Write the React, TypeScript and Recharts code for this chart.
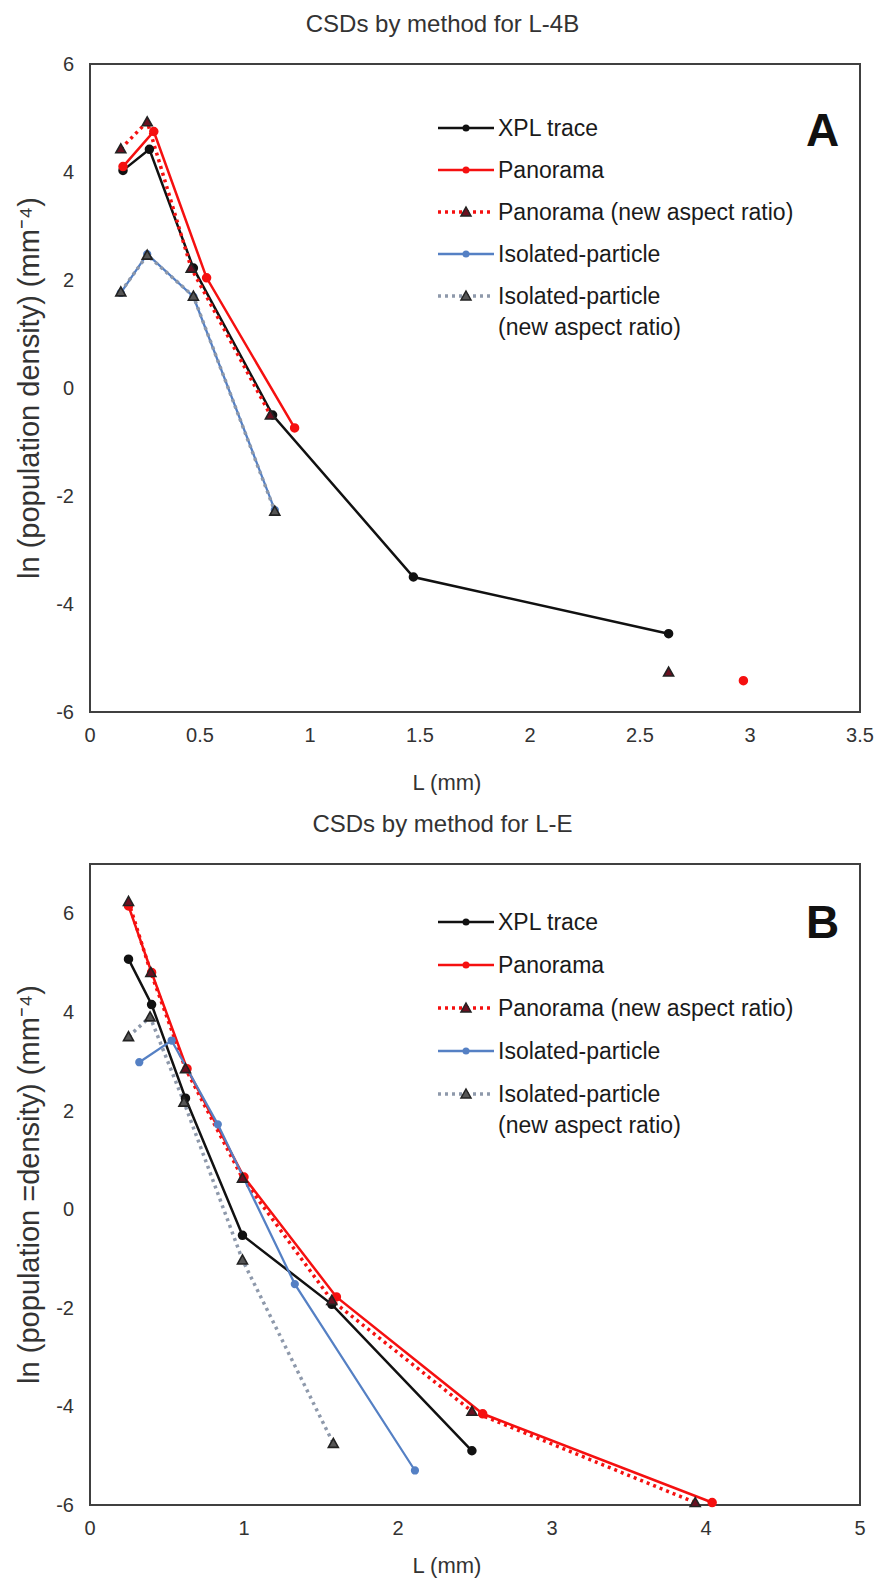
import { LineChart, Line, XAxis, YAxis, ReferenceArea } from 'recharts';

// ---- Chart A (L-4B) ----
const xplA_L = [0.15, 0.27, 0.47, 0.83, 1.47, 2.63];
const xplA_v = [4.03, 4.42, 2.22, -0.5, -3.5, -4.55];
const panA_L = [0.15, 0.29, 0.53, 0.93, 1.6, 2.97];
const panA_v = [4.1, 4.75, 2.04, -0.74, null, -5.42];
const panNarA_L = [0.14, 0.26, 0.46, 0.82, 1.47, 2.63];
const panNarA_v = [4.43, 4.93, 2.22, -0.5, null, -5.26];
const isoA_L = [0.14, 0.26, 0.47, 0.84];
const isoA_v = [1.76, 2.48, 1.69, -2.26];
const isoNarA_L = [0.14, 0.26, 0.47, 0.84];
const isoNarA_v = [1.78, 2.46, 1.7, -2.28];
const xTicksA = [0, 0.5, 1, 1.5, 2, 2.5, 3, 3.5];
const yTicksA = [-6, -4, -2, 0, 2, 4, 6];

// ---- Chart B (L-E) ----
const xplB_L = [0.25, 0.4, 0.62, 0.99, 1.57, 2.48];
const xplB_v = [5.07, 4.15, 2.25, -0.53, -1.93, -4.9];
const panB_L = [0.25, 0.4, 0.63, 1.0, 1.6, 2.55, 4.04];
const panB_v = [6.15, 4.8, 2.85, 0.65, -1.78, -4.15, -5.95];
const panNarB_L = [0.25, 0.395, 0.62, 0.99, 1.57, 2.48, 3.93];
const panNarB_v = [6.24, 4.8, 2.85, 0.63, -1.85, -4.1, -5.95];
const isoB_L = [0.32, 0.53, 0.83, 1.33, 2.11];
const isoB_v = [2.98, 3.42, 1.72, -1.52, -5.3];
const isoNarB_L = [0.25, 0.39, 0.61, 0.99, 1.58];
const isoNarB_v = [3.5, 3.9, 2.17, -1.03, -4.75];
const xTicksB = [0, 1, 2, 3, 4, 5];
const yTicksB = [-6, -4, -2, 0, 2, 4, 6];

const seriesNames = [
  'XPL trace',
  'Panorama',
  'Panorama (new aspect ratio)',
  'Isolated-particle',
  'Isolated-particle\n(new aspect ratio)',
];

const BLACK = '#111';
const RED = '#f51010';
const BLUE = '#5580c4';
const GREY = '#8e99ab';
const FONT = '"Liberation Sans", Arial, sans-serif';

const zip = (L: number[], v: (number | null)[]) => L.map((x, i) => ({ L: x, v: v[i] }));

const triangle = (fill: string) => (p: any) => {
  if (p.cy == null || p.value == null) return <g key={`t${p.index}`} />;
  const s = 5;
  return (
    <path
      key={`t${p.index}`}
      d={`M${p.cx},${p.cy - s} L${p.cx + s},${p.cy + s * 0.8} L${p.cx - s},${p.cy + s * 0.8} Z`}
      fill={fill}
      stroke="#222"
      strokeWidth={1.6}
    />
  );
};

function Sample({ color, dashed, tri, triFill }: { color: string; dashed?: boolean; tri?: boolean; triFill?: string }) {
  return (
    <svg width={58} height={16} style={{ display: 'block' }}>
      <line x1={1} y1={8} x2={57} y2={8} stroke={color} strokeWidth={dashed ? 3.5 : 2.5} strokeDasharray={dashed ? '3 4' : undefined} />
      {tri ? (
        <path d="M29,3 L34,12 L24,12 Z" fill={triFill} stroke="#222" strokeWidth={1.5} />
      ) : (
        <circle cx={29} cy={8} r={3.5} fill={color} />
      )}
    </svg>
  );
}

function LegendBox({ rows }: { rows: number[] }) {
  const samples = [
    <Sample color={BLACK} />,
    <Sample color={RED} />,
    <Sample color={RED} dashed tri triFill="#6a1020" />,
    <Sample color={BLUE} />,
    <Sample color={GREY} dashed tri triFill="#555" />,
  ];
  return (
    <div style={{ position: 'absolute', top: 0, left: 437, fontFamily: FONT, fontSize: 23, color: '#1a1a1a' }}>
      {seriesNames.map((name, i) => (
        <div key={name} style={{ position: 'absolute', top: rows[i] - 15, left: 0, display: 'flex', alignItems: 'flex-start', whiteSpace: 'pre', lineHeight: '31px' }}>
          <div style={{ marginTop: 7 }}>{samples[i]}</div>
          <span style={{ marginLeft: 3 }}>{name}</span>
        </div>
      ))}
    </div>
  );
}

function Panel({
  top, height, plotTop, plotBottom, title, titleY, letter, letterY, yLabel, xTicks, yTicks, xMax, yMin, yMax, data, legendRows,
}: any) {
  const xAxisH = height - plotBottom - 8;
  return (
    <div style={{ position: 'absolute', left: 0, top, width: 877, height }}>
      <div style={{ position: 'absolute', top: titleY - 14, left: 0, width: 877, textAlign: 'center', paddingLeft: 8, boxSizing: 'border-box', fontFamily: FONT, fontSize: 24, lineHeight: '28px', color: '#333' }}>
        {title}
      </div>
      <LineChart width={877} height={height} margin={{ top: plotTop, right: 17, bottom: 8, left: 0 }}>
        <XAxis
          dataKey="L"
          type="number"
          domain={[0, xMax]}
          ticks={xTicks}
          axisLine={false}
          tickLine={false}
          tickMargin={10}
          height={xAxisH}
          tick={{ fill: '#333', fontSize: 20, fontFamily: FONT }}
          label={{ value: 'L (mm)', position: 'insideBottom', offset: 2, dx: -28, fill: '#333', fontSize: 22, fontFamily: FONT }}
        />
        <YAxis
          type="number"
          domain={[yMin, yMax]}
          ticks={yTicks}
          axisLine={false}
          tickLine={false}
          tickMargin={10}
          width={90}
          tick={{ fill: '#333', fontSize: 20, fontFamily: FONT }}
          label={{ value: yLabel, angle: -90, position: 'insideLeft', offset: 29, fill: '#333', fontSize: 29, fontFamily: FONT, style: { textAnchor: 'middle' } }}
        />
        <ReferenceArea x1={0} x2={xMax} y1={yMin} y2={yMax} fill="none" stroke="#404040" strokeWidth={2} fillOpacity={0} strokeOpacity={1} />
        <Line data={data[0]} dataKey="v" stroke={BLACK} strokeWidth={2.5} dot={{ r: 3.5, fill: BLACK, stroke: BLACK }} isAnimationActive={false} connectNulls={false} />
        <Line data={data[1]} dataKey="v" stroke={RED} strokeWidth={2.5} dot={{ r: 3.5, fill: RED, stroke: RED }} isAnimationActive={false} connectNulls={false} />
        <Line data={data[2]} dataKey="v" stroke={RED} strokeWidth={3.5} strokeDasharray="3 4" dot={triangle('#6a1020')} isAnimationActive={false} connectNulls={false} />
        <Line data={data[3]} dataKey="v" stroke={BLUE} strokeWidth={2.25} dot={{ r: 3, fill: BLUE, stroke: BLUE }} isAnimationActive={false} connectNulls={false} />
        <Line data={data[4]} dataKey="v" stroke={GREY} strokeWidth={3.5} strokeDasharray="3 4" dot={triangle('#555')} isAnimationActive={false} connectNulls={false} />
      </LineChart>
      <div style={{ position: 'absolute', top: letterY - 25, left: 806, fontFamily: FONT, fontSize: 46, fontWeight: 'bold', color: '#111', lineHeight: '50px' }}>
        {letter}
      </div>
      <LegendBox rows={legendRows} />
    </div>
  );
}

export default function App() {
  const dataA = [
    zip(xplA_L, xplA_v),
    zip(panA_L, panA_v),
    zip(panNarA_L, panNarA_v),
    zip(isoA_L, isoA_v),
    zip(isoNarA_L, isoNarA_v),
  ];
  const dataB = [
    zip(xplB_L, xplB_v),
    zip(panB_L, panB_v),
    zip(panNarB_L, panNarB_v),
    zip(isoB_L, isoB_v),
    zip(isoNarB_L, isoNarB_v),
  ];
  return (
    <div style={{ position: 'absolute', left: 0, top: 0, width: 877, height: 1583, background: '#fff' }}>
      <Panel
        top={0}
        height={800}
        plotTop={64}
        plotBottom={712}
        title="CSDs by method for L-4B"
        titleY={24}
        letter="A"
        letterY={130}
        yLabel="ln (population density) (mm⁻⁴)"
        xTicks={xTicksA}
        yTicks={yTicksA}
        xMax={3.5}
        yMin={-6}
        yMax={6}
        data={dataA}
        legendRows={[128, 170, 212, 254, 296]}
      />
      <Panel
        top={800}
        height={783}
        plotTop={64}
        plotBottom={705}
        title="CSDs by method for L-E"
        titleY={24}
        letter="B"
        letterY={122}
        yLabel="ln (population =density) (mm⁻⁴)"
        xTicks={xTicksB}
        yTicks={yTicksB}
        xMax={5}
        yMin={-6}
        yMax={7}
        data={dataB}
        legendRows={[122, 165, 208, 251, 294]}
      />
    </div>
  );
}
